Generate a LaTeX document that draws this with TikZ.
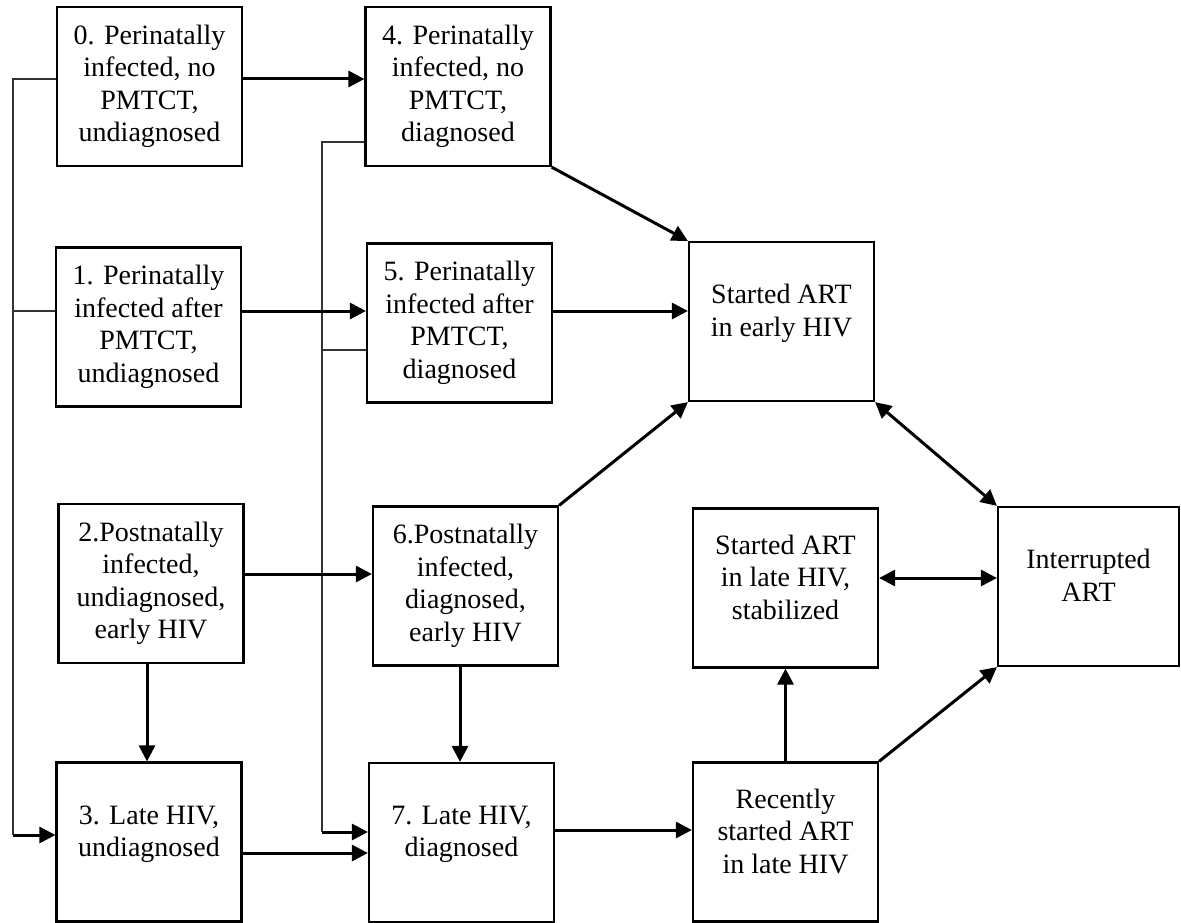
\documentclass[tikz,border=0pt]{standalone}
\usepackage{fontspec}
\setmainfont{Liberation Serif}
\usetikzlibrary{arrows.meta, calc}
\tikzset{
  box/.style={
    draw,
    rectangle,
    line width=2.2pt,
    minimum width=185pt,
    minimum height=159pt,
    inner sep=2pt,
    align=center,
    font=\fontsize{28}{32.5}\selectfont,
  },
  lowbox/.style={
    box,
    text depth=22pt
  },
  arrow/.style={
    -{Triangle[length=16pt, width=16pt]},
    line width=3pt
  },
  twoway/.style={
    {Triangle[length=16pt, width=16pt]}-{Triangle[length=16pt, width=16pt]},
    line width=3pt
  },
  tap/.style={
    line width=1.5pt,
    black!80
  }
}

\begin{document}
\begin{tikzpicture}[x=1pt, y=-1pt]
\useasboundingbox (0,0) rectangle (1181,923);

% --- Colonne gauche : non diagnostiques ---
\node[box] (n0) at (149.5,86.5) {0. Perinatally\\infected, no\\PMTCT,\\undiagnosed};
\node[box] (n1) at (148.5,327) {1. Perinatally\\infected after\\PMTCT,\\undiagnosed};
\node[box] (n2) at (151,583.5) {2.Postnatally\\infected,\\undiagnosed,\\early HIV};
\node[lowbox] (n3) at (149,842) {3. Late HIV,\\undiagnosed};

% --- Colonne milieu : diagnostiques ---
\node[box] (n4) at (458,86.5) {4. Perinatally\\infected, no\\PMTCT,\\diagnosed};
\node[box] (n5) at (459.5,323) {5. Perinatally\\infected after\\PMTCT,\\diagnosed};
\node[box] (n6) at (465.5,586) {6.Postnatally\\infected,\\diagnosed,\\early HIV};
\node[lowbox] (n7) at (461.5,842.5) {7. Late HIV,\\diagnosed};

% --- Etats sous traitement ---
\node[lowbox] (nE) at (781.5,321.5) {Started ART\\in early HIV};
\node[lowbox] (nS) at (785.5,588) {Started ART\\in late HIV,\\stabilized};
\node[lowbox, minimum width=181pt] (nI) at (1088.5,586.5) {Interrupted\\ART};
\node[lowbox] (nR) at (785.5,842) {Recently\\started ART\\in late HIV};

% --- Niveaux et troncs ---
\coordinate (lvA) at (0,79);
\coordinate (lvB) at (0,311);
\coordinate (lvC) at (0,142);
\coordinate (lvD) at (0,350);
\coordinate (lvE) at (0,574);
\coordinate (lvF) at (0,835);
\coordinate (lvG) at (0,832);
\coordinate (lvH) at (0,853);
\coordinate (lvI) at (0,830);
\coordinate (lvJ) at (0,578);
\coordinate (t1) at (13,0);
\coordinate (t2) at (322,0);

% --- Tronc gauche vers 3 ---
\draw[tap] (n0.west |- lvA) -| (t1 |- lvF);
\draw[tap] (n1.west |- lvB) -- (t1 |- lvB);
\draw[arrow] (t1 |- lvF) -- (n3.west |- lvF);

% --- Tronc milieu vers 7 ---
\draw[tap] (n4.west |- lvC) -| (t2 |- lvG);
\draw[tap] (n5.west |- lvD) -- (t2 |- lvD);
\draw[arrow] (t2 |- lvG) -- (n7.west |- lvG);

% --- Diagnostic ---
\draw[arrow] (n0.east |- lvA) -- (n4.west |- lvA);
\draw[arrow] (n1.east |- lvB) -- (n5.west |- lvB);
\draw[arrow] (n2.east |- lvE) -- (n6.west |- lvE);
\draw[arrow] (n3.east |- lvH) -- (n7.west |- lvH);

% --- Progression ---
\draw[arrow] (n2.south -| 147,0) -- (n3.north -| 147,0);
\draw[arrow] (n6.south -| 460,0) -- (n7.north -| 460,0);

% --- Traitement ---
\draw[arrow] (n4.south east) -- (nE.north west);
\draw[arrow] (n5.east |- lvB) -- (nE.west |- lvB);
\draw[arrow] (n6.north east) -- (nE.south west);
\draw[arrow] (n7.east |- lvI) -- (nR.west |- lvI);
\draw[arrow] (nR.north) -- (nS.south);
\draw[arrow] (nR.north east) -- (nI.south west);
\draw[twoway] (nE.south east) -- (nI.north west);
\draw[twoway] (nS.east |- lvJ) -- (nI.west |- lvJ);

\end{tikzpicture}
\end{document}
